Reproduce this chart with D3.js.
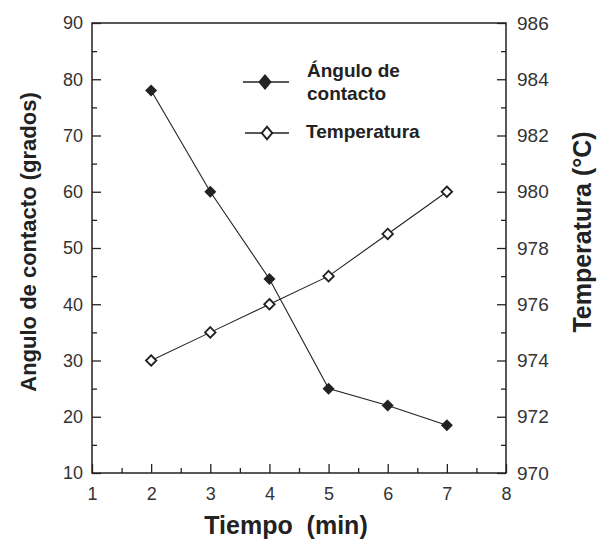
<!DOCTYPE html>
<html>
<head>
<meta charset="utf-8">
<script src="https://cdn.jsdelivr.net/npm/d3@7"></script>
<style>
  html, body { margin: 0; padding: 0; background: #fff; }
  text { font-family: "Liberation Sans", Arial, sans-serif; }
</style>
</head>
<body>
<div id="chart"></div>
<script>
const tiempo = [2, 3, 4, 5, 6, 7];
const angulo = [78, 60, 44.5, 25, 22, 18.5];
const temperatura = [974, 975, 976, 977, 978.5, 980];

const xTicks = [1, 2, 3, 4, 5, 6, 7, 8];
const yLeftTicks = [10, 20, 30, 40, 50, 60, 70, 80, 90];
const yRightTicks = [970, 972, 974, 976, 978, 980, 982, 984, 986];

const width = 604, height = 539;
const margin = { top: 23, right: 98, bottom: 66, left: 92 };

const svg = d3.select('#chart').append('svg')
  .attr('width', width).attr('height', height);

const x = d3.scaleLinear().domain([1, 8]).range([margin.left, width - margin.right]);
const yL = d3.scaleLinear().domain([10, 90]).range([height - margin.bottom, margin.top]);
const yR = d3.scaleLinear().domain([970, 986]).range([height - margin.bottom, margin.top]);

const plotBottom = height - margin.bottom;
const plotRight = width - margin.right;

// rotated-square diamond, size = (2r)^2
const squareDiamond = {
  draw(ctx, size) {
    const r = Math.sqrt(size) / 2;
    ctx.moveTo(0, -r); ctx.lineTo(r, 0); ctx.lineTo(0, r); ctx.lineTo(-r, 0); ctx.closePath();
  }
};

// frame
svg.append('rect')
  .attr('x', margin.left).attr('y', margin.top)
  .attr('width', plotRight - margin.left).attr('height', plotBottom - margin.top)
  .attr('fill', 'none').attr('stroke', '#222').attr('stroke-width', 1.5);

// inward ticks
const bottomAxis = d3.axisBottom(x).tickValues(xTicks).tickSize(-9).tickPadding(14).tickFormat(d3.format('d'));
const bottomMinor = d3.axisBottom(x).tickValues(d3.range(1.5, 8, 1)).tickSize(-5).tickFormat('');
const leftAxis = d3.axisLeft(yL).tickValues(yLeftTicks).tickSize(-9).tickPadding(9);
const leftMinor = d3.axisLeft(yL).tickValues(d3.range(15, 90, 10)).tickSize(-5).tickFormat('');
const rightAxis = d3.axisRight(yR).tickValues(yRightTicks).tickSize(-9).tickPadding(11);
const rightMinor = d3.axisRight(yR).tickValues(d3.range(971, 986, 2)).tickSize(-5).tickFormat('');

function styleAxis(g) {
  g.select('.domain').remove();
  g.selectAll('line').attr('stroke', '#222').attr('stroke-width', 1.3);
  g.selectAll('text').attr('fill', '#333').attr('font-size', 18);
}

svg.append('g').attr('transform', `translate(0,${plotBottom})`).call(bottomAxis).call(styleAxis);
svg.append('g').attr('transform', `translate(0,${plotBottom})`).call(bottomMinor).call(styleAxis);
svg.append('g').attr('transform', `translate(${margin.left},0)`).call(leftAxis).call(styleAxis);
svg.append('g').attr('transform', `translate(${margin.left},0)`).call(leftMinor).call(styleAxis);
svg.append('g').attr('transform', `translate(${plotRight},0)`).call(rightAxis).call(styleAxis)
  .selectAll('text').attr('font-size', 19);
svg.append('g').attr('transform', `translate(${plotRight},0)`).call(rightMinor).call(styleAxis);

// series
const filledDiamond = d3.symbol().type(squareDiamond).size(144);
const openDiamond = d3.symbol().type(squareDiamond).size(110);

const lineL = d3.line().x((d, i) => x(tiempo[i])).y(d => yL(d));
const lineR = d3.line().x((d, i) => x(tiempo[i])).y(d => yR(d));

svg.append('path').datum(angulo).attr('d', lineL)
  .attr('fill', 'none').attr('stroke', '#222').attr('stroke-width', 1.1);
svg.append('path').datum(temperatura).attr('d', lineR)
  .attr('fill', 'none').attr('stroke', '#222').attr('stroke-width', 1.1);

svg.selectAll('.ang').data(angulo).join('path')
  .attr('class', 'ang')
  .attr('transform', (d, i) => `translate(${x(tiempo[i])},${yL(d)})`)
  .attr('d', filledDiamond).attr('fill', '#222');

svg.selectAll('.temp').data(temperatura).join('path')
  .attr('class', 'temp')
  .attr('transform', (d, i) => `translate(${x(tiempo[i])},${yR(d)})`)
  .attr('d', openDiamond).attr('fill', '#fff').attr('stroke', '#222').attr('stroke-width', 1.8);

// legend
const legend = svg.append('g');
legend.append('line').attr('x1', 243).attr('x2', 289).attr('y1', 82).attr('y2', 82)
  .attr('stroke', '#222').attr('stroke-width', 1.3);
legend.append('path').attr('transform', 'translate(265,82) scale(1,1.2)')
  .attr('d', d3.symbol().type(squareDiamond).size(180)).attr('fill', '#222');
legend.append('text').attr('x', 307).attr('y', 77).attr('font-size', 19).attr('font-weight', 'bold')
  .attr('fill', '#222').text('Ángulo de');
legend.append('text').attr('x', 307).attr('y', 100).attr('font-size', 19).attr('font-weight', 'bold')
  .attr('fill', '#222').text('contacto');
legend.append('line').attr('x1', 245).attr('x2', 289).attr('y1', 133).attr('y2', 133)
  .attr('stroke', '#222').attr('stroke-width', 1.3);
legend.append('path').attr('transform', 'translate(267,133) scale(1,1.2)')
  .attr('d', openDiamond).attr('fill', '#fff').attr('stroke', '#222').attr('stroke-width', 1.8);
legend.append('text').attr('x', 306).attr('y', 138).attr('font-size', 19).attr('font-weight', 'bold')
  .attr('fill', '#222').text('Temperatura');

// axis titles
svg.append('text').attr('x', 286).attr('y', 534)
  .attr('text-anchor', 'middle').attr('font-size', 25).attr('font-weight', 'bold').attr('fill', '#222')
  .attr('xml:space', 'preserve').text('Tiempo  (min)');
svg.append('text').attr('transform', 'translate(36,242) rotate(-90)')
  .attr('text-anchor', 'middle').attr('font-size', 22).attr('font-weight', 'bold').attr('fill', '#222')
  .text('Angulo de contacto (grados)');
svg.append('text').attr('transform', 'translate(591,232) rotate(-90)')
  .attr('text-anchor', 'middle').attr('font-size', 25).attr('font-weight', 'bold').attr('fill', '#222')
  .text('Temperatura (°C)');
</script>
</body>
</html>
